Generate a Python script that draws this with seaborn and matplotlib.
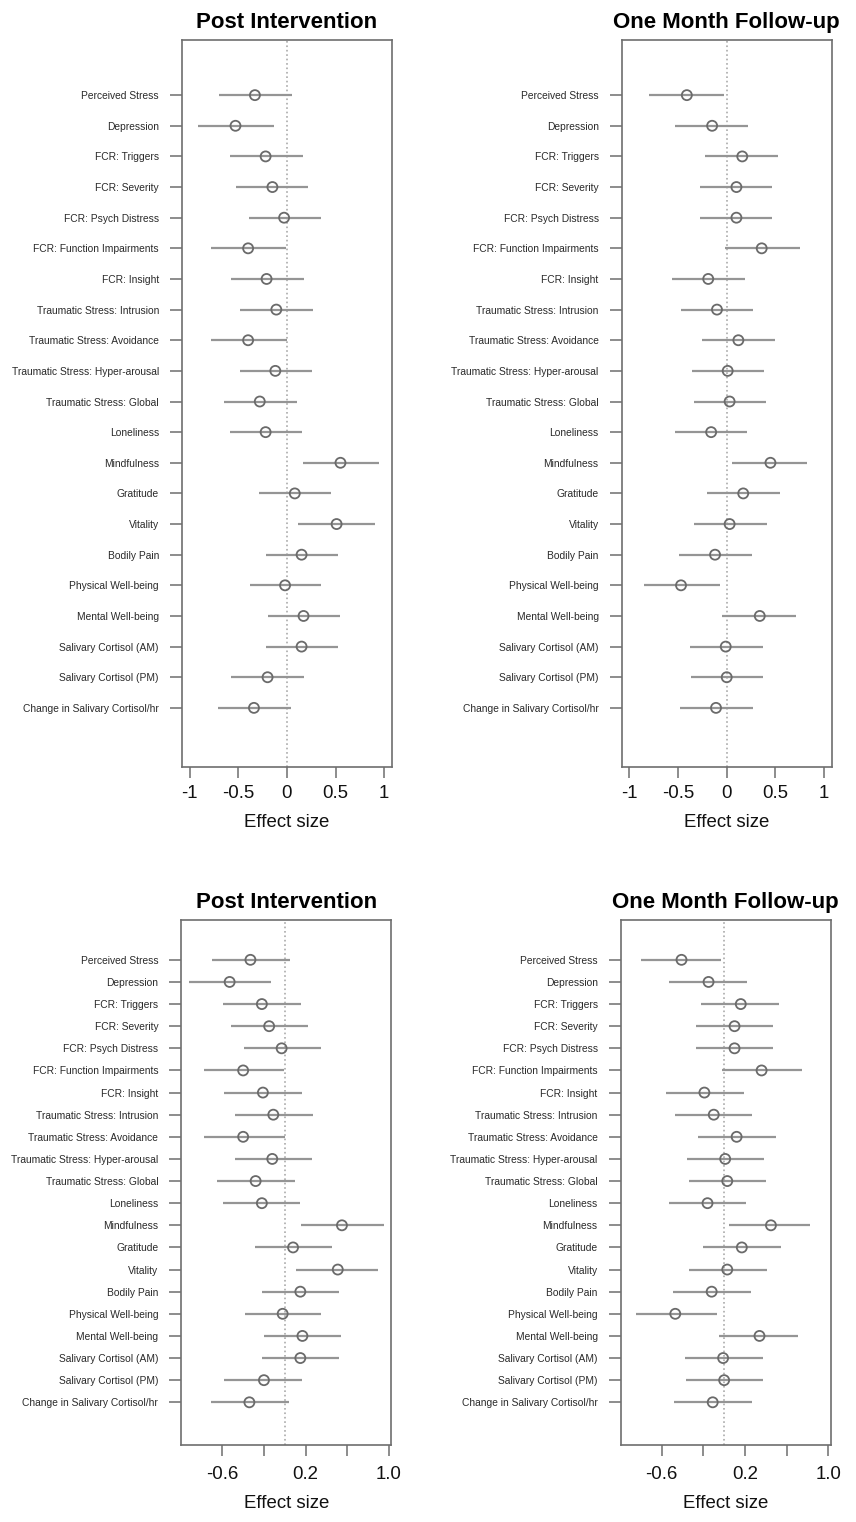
import numpy as np
import pandas as pd
import matplotlib
matplotlib.use("Agg")
import matplotlib.pyplot as plt
import seaborn as sns

sns.set_theme(style="white")
plt.rcParams["font.family"] = ["Liberation Sans", "DejaVu Sans"]
plt.rcParams["axes.unicode_minus"] = False

# === DATA (effect sizes with 95% CI) ===
outcomes = [
    "Perceived Stress", "Depression", "FCR: Triggers", "FCR: Severity",
    "FCR: Psych Distress", "FCR: Function Impairments", "FCR: Insight",
    "Traumatic Stress: Intrusion", "Traumatic Stress: Avoidance",
    "Traumatic Stress: Hyper-arousal", "Traumatic Stress: Global",
    "Loneliness", "Mindfulness", "Gratitude", "Vitality", "Bodily Pain",
    "Physical Well-being", "Mental Well-being", "Salivary Cortisol (AM)",
    "Salivary Cortisol (PM)", "Change in Salivary Cortisol/hr",
]

post_est = [-0.33, -0.53, -0.22, -0.15, -0.03, -0.40, -0.21, -0.11, -0.40, -0.12, -0.28,
            -0.22, 0.55, 0.08, 0.51, 0.15, -0.02, 0.17, 0.15, -0.20, -0.34]
post_lo = [-0.70, -0.92, -0.59, -0.52, -0.39, -0.78, -0.58, -0.48, -0.78, -0.48, -0.65,
           -0.59, 0.16, -0.29, 0.11, -0.22, -0.38, -0.20, -0.22, -0.58, -0.71]
post_hi = [0.05, -0.13, 0.16, 0.22, 0.35, -0.01, 0.17, 0.27, 0.00, 0.26, 0.10,
           0.15, 0.95, 0.45, 0.90, 0.52, 0.35, 0.54, 0.52, 0.17, 0.04]

fu_est = [-0.41, -0.15, 0.16, 0.10, 0.10, 0.36, -0.19, -0.10, 0.12, 0.01, 0.03,
          -0.16, 0.45, 0.17, 0.03, -0.12, -0.47, 0.34, -0.01, 0.00, -0.11]
fu_lo = [-0.80, -0.53, -0.22, -0.27, -0.27, -0.02, -0.56, -0.47, -0.25, -0.36, -0.34,
         -0.53, 0.05, -0.20, -0.34, -0.49, -0.85, -0.05, -0.38, -0.37, -0.48]
fu_hi = [-0.03, 0.22, 0.53, 0.47, 0.47, 0.75, 0.19, 0.27, 0.50, 0.38, 0.40,
         0.21, 0.83, 0.55, 0.41, 0.26, -0.07, 0.71, 0.37, 0.37, 0.27]

titles = ["Post Intervention", "One Month Follow-up"]

top_ticks = [-1, -0.5, 0, 0.5, 1]
top_ticklabels = ["-1", "-0.5", "0", "0.5", "1"]
bottom_ticks = [-0.6, -0.2, 0.2, 0.6, 1.0]
bottom_ticklabels = ["-0.6", "", "0.2", "", "1.0"]

post = pd.DataFrame({"outcome": outcomes, "est": post_est, "lo": post_lo, "hi": post_hi})
fu = pd.DataFrame({"outcome": outcomes, "est": fu_est, "lo": fu_lo, "hi": fu_hi})

# bottom row uses a data-driven x range (R style 4% padding)
all_lo = min(min(post_lo), min(fu_lo))
all_hi = max(max(post_hi), max(fu_hi))
pad = 0.04 * (all_hi - all_lo)
bottom_xlim = (all_lo - pad, all_hi + pad)

GREY_LINE = "#959595"
GREY_PT = "#6a6a6a"
GREY_AX = "#6e6e6e"

fig = plt.figure(figsize=(8.56, 15.22), dpi=100)

# panel rectangles in pixels -> figure fractions
W, H = 856, 1522
panels = [
    (post, 0, (182, 40, 210, 727), (-1.08, 1.08), top_ticks, top_ticklabels, 5),
    (fu, 1, (621.7, 40, 210, 727), (-1.08, 1.08), top_ticks, top_ticklabels, 5),
    (post, 0, (181.3, 920, 210, 525), bottom_xlim, bottom_ticks, bottom_ticklabels, 7),
    (fu, 1, (620.7, 920, 210, 525), bottom_xlim, bottom_ticks, bottom_ticklabels, 7),
]

for df, ti, (px, py, pw, ph), xlim, ticks, ticklabels, xpad in panels:
    ax = fig.add_axes([px / W, 1 - (py + ph) / H, pw / W, ph / H])

    # points first so the categorical axis is set up
    sns.scatterplot(data=df, x="est", y="outcome", ax=ax, marker="o", s=52,
                    facecolor="none", edgecolor=GREY_PT, linewidth=1.3, zorder=3)
    ax.hlines(df["outcome"], df["lo"], df["hi"], color=GREY_LINE, lw=1.6, zorder=2)
    ax.axvline(0, color="#aaaaaa", ls=":", lw=1.2, zorder=1)

    ax.set_xlim(*xlim)
    ax.set_ylim(len(outcomes) - 1 + 1.93, -1.8)
    ax.set_xticks(ticks)
    ax.set_xticklabels(ticklabels)
    ax.set_title(titles[ti], fontsize=16, fontweight="bold", pad=8.4, color="black")
    ax.set_xlabel("Effect size", fontsize=13.4, labelpad=8.4, color="#111111")
    ax.set_ylabel("")

    ax.tick_params(axis="y", direction="out", length=8.6, width=1.1, color=GREY_AX,
                   labelsize=7.4, labelcolor="#2a2a2a", pad=8, left=True)
    ax.tick_params(axis="x", direction="out", length=8, width=1.1, color=GREY_AX,
                   labelsize=13.4, labelcolor="#111111", pad=xpad, bottom=True)

    for side in ["left", "right", "top", "bottom"]:
        ax.spines[side].set_visible(True)
        ax.spines[side].set_color(GREY_AX)
        ax.spines[side].set_linewidth(1.2)

    ax.grid(False)

fig.savefig("out.png", dpi=100)
